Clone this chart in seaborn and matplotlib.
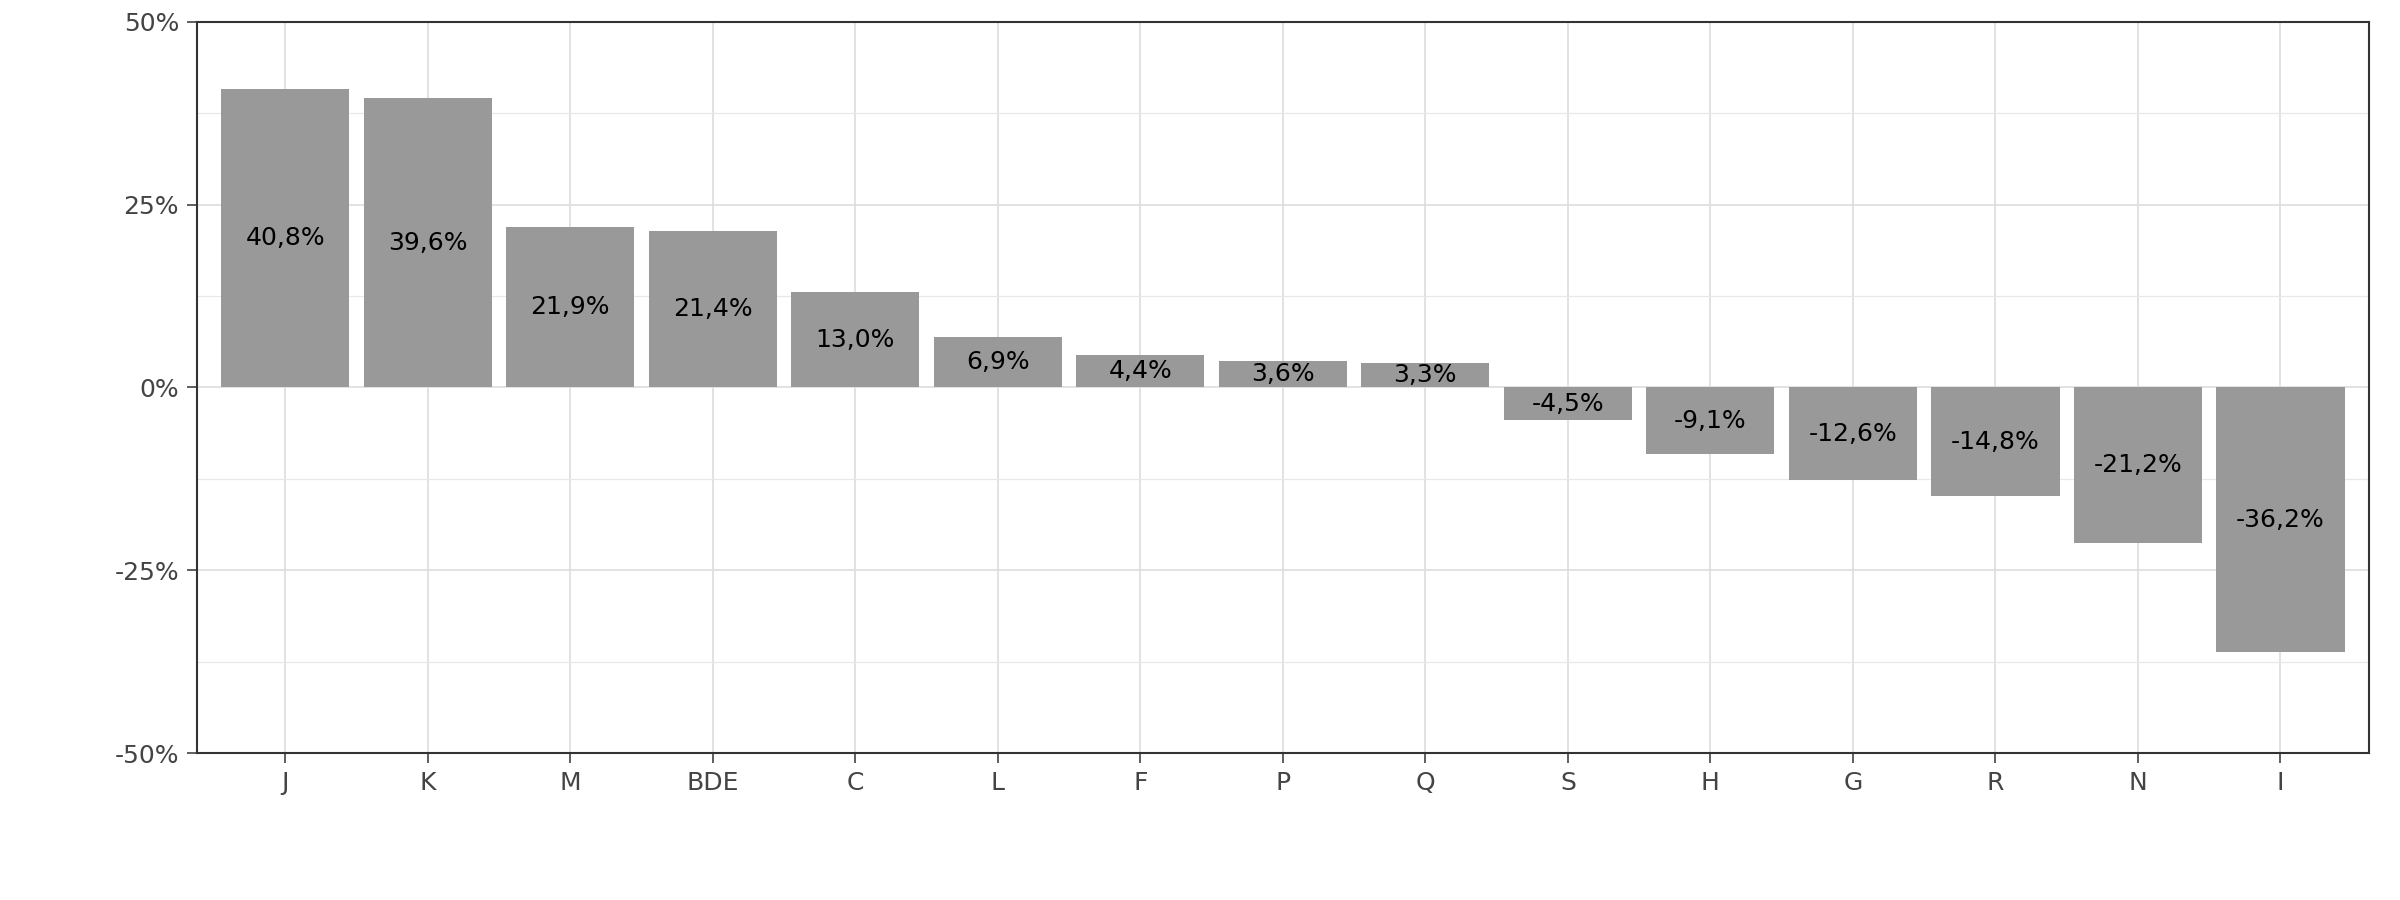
import matplotlib
matplotlib.use("Agg")
import matplotlib.pyplot as plt
import seaborn as sns
import pandas as pd
from matplotlib.ticker import MultipleLocator, FuncFormatter

categories = ["J", "K", "M", "BDE", "C", "L", "F", "P", "Q", "S", "H", "G", "R", "N", "I"]
values = [40.8, 39.6, 21.9, 21.4, 13.0, 6.9, 4.4, 3.6, 3.3, -4.5, -9.1, -12.6, -14.8, -21.2, -36.2]

df = pd.DataFrame({"cat": categories, "val": values})

fig = plt.figure(figsize=(16, 6), dpi=150)
ax = fig.add_axes([0.082, 0.163, 0.905, 0.813])
sns.barplot(data=df, x="cat", y="val", color="#999999", saturation=1, width=0.9, ax=ax, zorder=2)
for p in ax.patches:
    p.set_edgecolor("none")

for i, v in enumerate(values):
    ax.text(i, v / 2, f"{v:.1f}%".replace(".", ","), ha="center", va="center", fontsize=12, color="black", zorder=3)

ax.set_ylim(-50, 50)
ax.set_xlim(-0.62, len(categories) - 0.38)
ax.yaxis.set_major_locator(MultipleLocator(25))
ax.yaxis.set_minor_locator(MultipleLocator(12.5))
ax.yaxis.set_major_formatter(FuncFormatter(lambda v, p: f"{v:.0f}%"))
ax.grid(True, which="major", color="#dddddd", linewidth=0.8, zorder=0)
ax.grid(True, which="minor", axis="y", color="#e8e8e8", linewidth=0.6, zorder=0)
ax.set_axisbelow(True)
ax.set_xlabel("")
ax.set_ylabel("")
ax.tick_params(axis="both", labelsize=12, colors="#444444", length=5)
ax.tick_params(axis="y", which="minor", length=0)
for s in ax.spines.values():
    s.set_color("#333333")
    s.set_linewidth(1)

fig.savefig("out.png", dpi=150, facecolor="white")
